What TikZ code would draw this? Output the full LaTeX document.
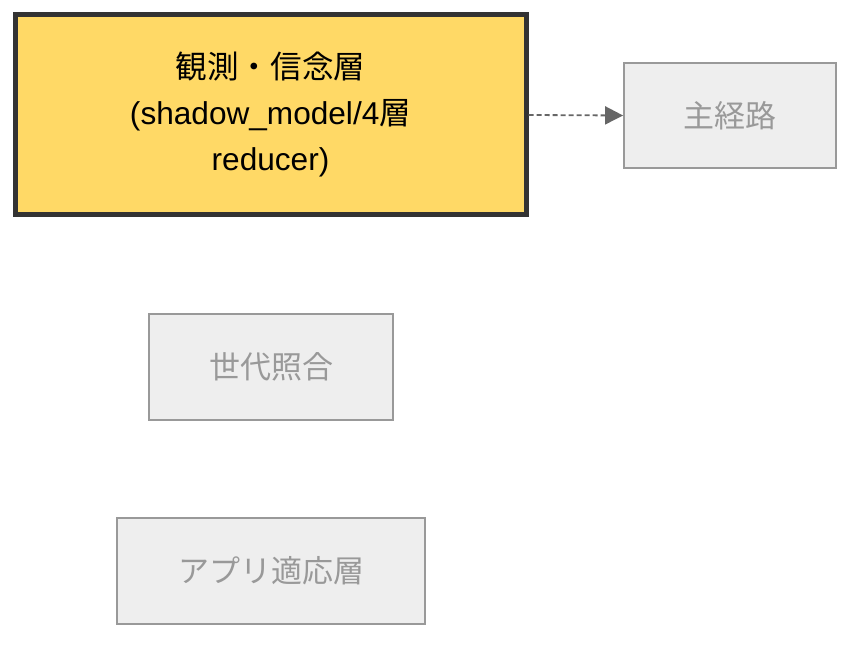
\documentclass[tikz,border=0pt]{standalone}
\usepackage{fontspec}
\setmainfont{Liberation Sans}
\newfontfamily\cjk{Noto Sans CJK JP}
\usetikzlibrary{arrows.meta}
\definecolor{hiyellow}{HTML}{FFD966}
\definecolor{hiborder}{HTML}{333333}
\definecolor{dimfill}{HTML}{EEEEEE}
\definecolor{dimborder}{HTML}{999999}
\definecolor{dimtext}{HTML}{999999}
\definecolor{arrowgray}{HTML}{666666}
\tikzset{
  hibox/.style={draw=hiborder, line width=5pt, fill=hiyellow, align=center, font=\fontsize{31.6}{46}\selectfont, text=black, inner sep=0pt},
  dimbox/.style={draw=dimborder, line width=1.8pt, fill=dimfill, text=dimtext, font=\fontsize{31}{36}\cjk, inner sep=0pt},
  dotlink/.style={draw=arrowgray, line width=1.8pt, dash pattern=on 5pt off 3pt, -{Triangle[length=18pt,width=18pt]}}
}
\begin{document}
\begin{tikzpicture}[x=1pt,y=-1pt]
\useasboundingbox (0,0) rectangle (868,652);
\node[hibox, minimum width=511pt, minimum height=200pt] (obs) at (270.5,115) {{\cjk 観測・信念層}\\(shadow\_model/4{\cjk 層}\\reducer)};
\node[dimbox, minimum width=212pt, minimum height=105pt] (main) at (730,115.5) {主経路};
\node[dimbox, minimum width=244pt, minimum height=106pt] (gen) at (271,367) {世代照合};
\node[dimbox, minimum width=308pt, minimum height=106pt] (app) at (271,571) {アプリ適応層};
\draw[dotlink] (obs.east) -- (main.west);
\end{tikzpicture}
\end{document}
